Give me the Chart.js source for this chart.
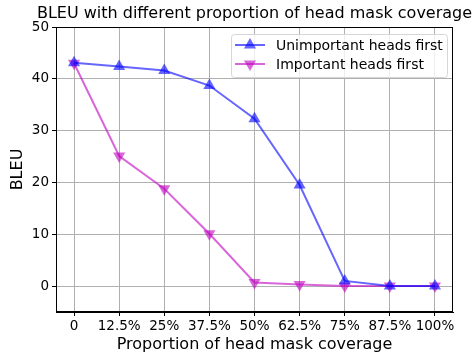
<!DOCTYPE html>
<html>
<head>
<meta charset="utf-8">
<script src="https://cdn.jsdelivr.net/npm/chart.js@4.4.0/dist/chart.umd.min.js"></script>
<style>
    html, body { margin: 0; padding: 0; background: #fff; }
    #wrap { width: 474px; height: 356px; }
</style>
</head>
<body>
<div id="wrap"><canvas id="chart" width="474" height="356"></canvas></div>
<script>
// chart data
const categories = ['0', '12.5%', '25%', '37.5%', '50%', '62.5%', '75%', '87.5%', '100%'];
const unimportantFirst = [43.1, 42.4, 41.6, 38.7, 32.3, 19.5, 1.0, 0.0, 0.0];
const importantFirst = [43.0, 25.1, 18.8, 10.1, 0.7, 0.3, 0.0, 0.0, 0.0];
const yTicks = [0, 10, 20, 30, 40, 50];
const chartTitle = 'BLEU with different proportion of head mask coverage';

const blue = 'rgba(0,0,255,0.6)';
const magenta = 'rgba(191,0,191,0.6)';
const FONT = 'DejaVu Sans';

function toPoints(values) {
    return values.map((v, i) => ({ x: i, y: v }));
}

// title centred over the plot, frame + legend drawn over the plot area
const framePlugin = {
    id: 'frame',
    afterDraw(chart) {
        const { ctx, chartArea: a } = chart;
        ctx.save();
        ctx.fillStyle = '#000';
        ctx.font = '16px "' + FONT + '"';
        ctx.textAlign = 'center';
        ctx.textBaseline = 'middle';
        ctx.fillText(chartTitle, (a.left + a.right) / 2, 14);

        ctx.strokeStyle = '#000';
        ctx.lineWidth = 1;
        ctx.strokeRect(a.left + 0.5, a.top + 0.5, a.right - a.left - 1, a.bottom - a.top - 1);

        // legend box
        const bx = 231, by = 34, bw = 216, bh = 43;
        ctx.fillStyle = 'rgba(255,255,255,0.8)';
        ctx.strokeStyle = '#d6d6d6';
        ctx.beginPath();
        ctx.roundRect(bx + 0.5, by + 0.5, bw, bh, 3);
        ctx.fill();
        ctx.stroke();

        const items = [
            { label: 'Unimportant heads first', color: blue, rot: 0 },
            { label: 'Important heads first', color: magenta, rot: 180 }
        ];
        ctx.font = '14px "' + FONT + '"';
        ctx.textAlign = 'left';
        items.forEach((it, i) => {
            const y = by + 11 + i * 19;
            ctx.strokeStyle = it.color;
            ctx.lineWidth = 2;
            ctx.beginPath();
            ctx.moveTo(bx + 4, y);
            ctx.lineTo(bx + 34, y);
            ctx.stroke();
            ctx.fillStyle = it.color;
            Chart.helpers.drawPoint(ctx, { pointStyle: 'triangle', radius: 7, rotation: it.rot }, bx + 19, y);
            ctx.fillStyle = '#000';
            ctx.fillText(it.label, bx + 45, y + 1);
        });
        ctx.restore();
    }
};

new Chart(document.getElementById('chart'), {
    type: 'line',
    data: {
        datasets: [
            {
                label: 'Unimportant heads first',
                data: toPoints(unimportantFirst),
                borderColor: blue,
                backgroundColor: blue,
                borderWidth: 2,
                pointStyle: 'triangle',
                pointRadius: 7,
                pointBorderWidth: 0,
                pointBackgroundColor: blue
            },
            {
                label: 'Important heads first',
                data: toPoints(importantFirst),
                borderColor: magenta,
                backgroundColor: magenta,
                borderWidth: 2,
                pointStyle: 'triangle',
                pointRotation: 180,
                pointRadius: 7,
                pointBorderWidth: 0,
                pointBackgroundColor: magenta
            }
        ]
    },
    options: {
        responsive: false,
        animation: false,
        layout: { padding: { left: 0, right: 21, top: 27, bottom: 0 } },
        plugins: {
            legend: { display: false },
            tooltip: { enabled: false },
            title: { display: false }
        },
        scales: {
            x: {
                type: 'linear',
                min: -0.4,
                max: 8.4,
                afterBuildTicks(scale) {
                    scale.ticks = categories.map((c, i) => ({ value: i }));
                },
                afterFit(scale) { scale.height = 44; },
                ticks: {
                    color: '#000',
                    font: { family: FONT, size: 13.5 },
                    padding: 2,
                    maxRotation: 0,
                    autoSkip: false,
                    callback: (v) => categories[v]
                },
                grid: { color: '#b0b0b0', lineWidth: 1, tickLength: 4, tickColor: '#000' },
                border: { color: '#000' },
                title: {
                    display: true,
                    text: 'Proportion of head mask coverage',
                    color: '#000',
                    font: { family: FONT, size: 16 },
                    padding: { top: 0, bottom: 2 }
                }
            },
            y: {
                min: -5,
                max: 50,
                afterBuildTicks(scale) {
                    scale.ticks = yTicks.map(v => ({ value: v }));
                },
                afterFit(scale) { scale.width = 56; },
                ticks: {
                    color: '#000',
                    font: { family: FONT, size: 13.5 },
                    padding: 3
                },
                grid: { color: '#b0b0b0', lineWidth: 1, tickLength: 4, tickColor: '#000' },
                border: { color: '#000' },
                title: {
                    display: true,
                    text: 'BLEU',
                    color: '#000',
                    font: { family: FONT, size: 16 },
                    padding: { top: 8, bottom: 0 }
                }
            }
        }
    },
    plugins: [framePlugin]
});
</script>
</body>
</html>
